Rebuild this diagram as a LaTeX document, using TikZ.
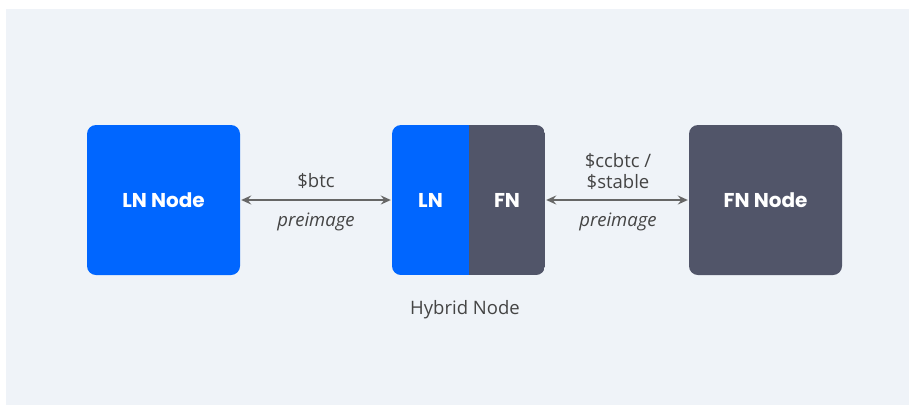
\documentclass[tikz,border=0pt]{standalone}
\usepackage{fontspec}
\setmainfont{Open Sans}
\newfontfamily\boldfam{Poppins}
\usetikzlibrary{arrows.meta}
\definecolor{bgc}{HTML}{EFF3F8}
\definecolor{lnblue}{HTML}{0066FF}
\definecolor{fngray}{HTML}{515569}
\definecolor{arrowc}{HTML}{666666}
\definecolor{txtc}{HTML}{444444}
\tikzset{
  box/.style={minimum width=153pt, minimum height=150pt, rounded corners=9pt, inner sep=0pt},
  boxlabel/.style={text=white, font=\boldfam\fontsize{20}{24}\selectfont\bfseries},
  conn/.style={draw=arrowc, line width=1.8pt, {Stealth[length=10pt,width=9pt,inset=3.5pt]}-{Stealth[length=10pt,width=9pt,inset=3.5pt]}},
  lbl/.style={text=txtc, font=\fontsize{18.5}{21}\selectfont, align=center},
  ilbl/.style={text=txtc, font=\fontsize{18.5}{21}\selectfont\itshape}
}
\begin{document}
\begin{tikzpicture}[x=1pt,y=-1pt]
\useasboundingbox (0,0) rectangle (909,405);
\fill[bgc] (6,9) rectangle (909,405);
% LN node
\node[box, fill=lnblue] (ln) at (163.5,200) {};
\node[boxlabel] at (ln.center) {LN Node};
% FN node
\node[box, fill=fngray] (fn) at (765.5,200) {};
\node[boxlabel] at (fn.center) {FN Node};
% Hybrid node
\node[box] (hy) at (468.5,200) {};
\begin{scope}
\clip[rounded corners=9pt] (392,125) rectangle (545,275);
\fill[fngray] (469,125) rectangle (545,275);
\fill[lnblue] (392,125) rectangle (469.3,275);
\end{scope}
\node[boxlabel] (hyl) at (430.5,200) {LN};
\node[boxlabel] (hyf) at (507,200) {FN};
\node[lbl] (hyt) at (465,310) {Hybrid Node};
% connectors
\draw[conn] ([xshift=1pt]ln.east) -- ([xshift=-1pt]hy.west);
\draw[conn] ([xshift=1pt]hy.east) -- ([xshift=-1pt]fn.west);
\node[lbl] (l1) at (316,181) {\$btc};
\node[ilbl] (p1) at (316,222) {preimage};
\node[lbl] (l2) at (618,172) {\$ccbtc /\\\$stable};
\node[ilbl] (p2) at (618,222) {preimage};
\end{tikzpicture}
\end{document}
